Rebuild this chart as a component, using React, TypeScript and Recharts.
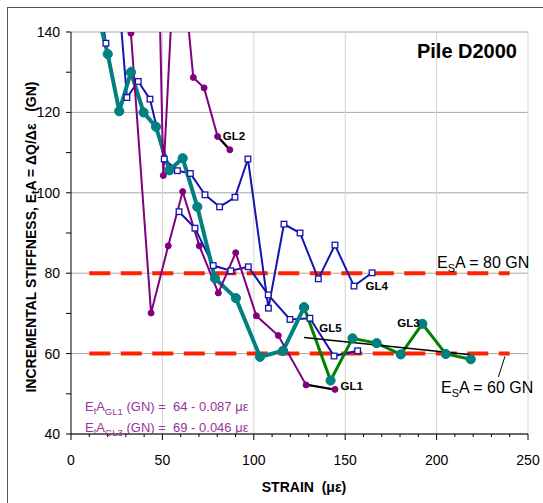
import React from "react";
import { LineChart, Line, XAxis, YAxis, CartesianGrid } from "recharts";

type Pt = [number, number | null];

// axis ticks
const xMajor = [0, 50, 100, 150, 200, 250];
const yMajor = [40, 60, 80, 100, 120, 140];
const xTicks = Array.from({ length: 26 }, (_, i) => i * 10);
const yTicks = Array.from({ length: 11 }, (_, i) => 40 + i * 10);

// main gauge (teal), the part after 127 µε is drawn green
const mainTeal: Pt[] = [
  [13, 147.5], [20.1, 134.5], [26.4, 120.3], [32.8, 130], [39.7, 120], [46.5, 116.4],
  [53.8, 105.6], [61.1, 108.6], [69.1, 96.5], [78.8, 78.7], [90.2, 73.8], [103.4, 59.2],
  [116, 60.7], [127.5, 71.5],
];
const mainGreen: Pt[] = [
  [127.5, 71.5], [142, 53.3], [154, 63.8], [167.2, 62.6], [180.4, 59.8], [192.2, 67.4],
  [205, 59.9], [218.7, 58.6],
];
// GL4 / GL5 (blue, open squares)
const gl4: Pt[] = [
  [25, 155], [30.6, 123.7], [36.8, 127.7], [43.2, 123.3], [51, 108.4], [58.2, 105.5],
  [65.3, 104.8], [73.3, 99.5], [81.3, 96.5], [89.7, 98.9], [96.8, 108.4], [108, 71.3],
  [116.5, 92.2], [125.3, 90], [135.3, 78.6], [144.4, 87], [154.8, 76.8], [164.7, 80.1],
];
const gl5: Pt[] = [
  [15, 150], [19.1, 137.2], [30, null], [59.1, 95.3], [67.8, 91.2], [77.8, 81.9],
  [87.4, 80.6], [97, 81.6], [107.9, 74.6], [119.8, 68.5], [130.7, 68.8], [143.9, 59.4],
  [156.8, 60.7],
];
// GL1 / GL2 (purple)
const gl1: Pt[] = [
  [32.8, 139.7], [43.8, 70.1], [53.2, 86.8], [61.1, 100.3], [70.2, 86.8], [80.6, 75.1],
  [90.1, 85.1], [101.4, 69.4], [113.4, 64.5], [128.6, 52.2], [144.4, 51.1],
];
const gl2: Pt[] = [
  [46, 198], [50.5, 104.3], [58, 171], [66.9, 128.7], [72.8, 126.1], [80.2, 114], [86.9, 110.7],
];
// trend lines
const gl1Fit: Pt[] = [[128.6, 52.3], [144.4, 51.0]];
const gl2Fit: Pt[] = [[80.2, 114], [86.9, 110.7]];
const gl3Fit: Pt[] = [[127.5, 64.0], [218.7, 59.7]];
// E_sA levels
const esa80: Pt[] = [[10, 80], [240, 80]];
const esa60: Pt[] = [[10, 60], [240, 60]];
const pointer60: Pt[] = [[237.4, 59.3], [233.8, 54.2]];

const toData = (pts: Pt[]) => pts.map(([x, y]) => ({ x, y }));

const FONT = "Arial, 'Liberation Sans', sans-serif";
const TEAL = "#008080";
const GREEN = "#008000";
const BLUE = "#1414b0";
const PURPLE = "#800080";
const RED = "#ff2200";
const TXT_PURPLE = "#993399";

const XTick = (props: any) => {
  const { x, y, payload } = props;
  const major = xMajor.includes(payload.value);
  return (
    <g>
      <line x1={x} x2={x} y1={y} y2={y + (major ? 6 : 3)} stroke="#000" />
      {major && (
        <text x={x} y={y + 31} textAnchor="middle" fontSize={14} fontFamily={FONT} fill="#000">
          {payload.value}
        </text>
      )}
    </g>
  );
};

const YTick = (props: any) => {
  const { x, y, payload } = props;
  const major = yMajor.includes(payload.value);
  return (
    <g>
      <line x1={x - 5} x2={x} y1={y} y2={y} stroke="#000" />
      {major && (
        <text x={x - 11} y={y + 5} textAnchor="end" fontSize={14} fontFamily={FONT} fill="#000">
          {payload.value}
        </text>
      )}
    </g>
  );
};

const circleDot = (r: number, fill: string) => (p: any) =>
  p.cx == null || p.cy == null ? (
    <g key={p.index} />
  ) : (
    <circle key={p.index} cx={p.cx} cy={p.cy} r={r} fill={fill} stroke={fill} />
  );

const squareDot = (p: any) =>
  p.cx == null || p.cy == null ? (
    <g key={p.index} />
  ) : (
    <rect
      key={p.index}
      x={p.cx - 2.8}
      y={p.cy - 2.8}
      width={5.6}
      height={5.6}
      fill="#fff"
      stroke={BLUE}
      strokeWidth={1.3}
    />
  );

const App: React.FC = () => {
  return (
    <div style={{ position: "absolute", left: 0, top: 0, width: 543, height: 503, overflow: "hidden", background: "#fff" }}>
      <div
        style={{
          position: "absolute",
          left: 7,
          top: 7,
          width: 535,
          height: 495,
          borderTop: "1px solid #555",
          borderLeft: "1px solid #555",
        }}
      />
      <div style={{ position: "absolute", left: 0, top: 0 }}>
        <LineChart width={543} height={503} margin={{ top: 32, right: 15, bottom: 39, left: 0 }}>
          <CartesianGrid
            vertical={false}
            stroke="#a8a8a8"
            horizontalCoordinatesGenerator={({ offset }: any) =>
              yMajor.map((v) => offset.top + ((140 - v) / 100) * offset.height)
            }
          />
          <CartesianGrid
            horizontal={false}
            stroke="#d4d4d4"
            verticalCoordinatesGenerator={({ offset }: any) =>
              xMajor.slice(1).map((v) => offset.left + (v / 250) * offset.width)
            }
          />
          <XAxis
            type="number"
            dataKey="x"
            domain={[0, 250]}
            ticks={xTicks}
            interval={0}
            allowDataOverflow
            tickSize={0}
            tickMargin={0}
            tickLine={false}
            tick={<XTick />}
            axisLine={{ stroke: "#000" }}
            height={30}
          />
          <YAxis
            type="number"
            dataKey="y"
            domain={[40, 140]}
            ticks={yTicks}
            interval={0}
            allowDataOverflow
            tickSize={0}
            tickMargin={0}
            tickLine={false}
            tick={<YTick />}
            axisLine={{ stroke: "#000" }}
            width={71}
          />

          <Line data={toData(esa80)} dataKey="y" stroke={RED} strokeWidth={4} strokeDasharray="21 10.5" dot={false} isAnimationActive={false} />
          <Line data={toData(esa60)} dataKey="y" stroke={RED} strokeWidth={4} strokeDasharray="21 10.5" dot={false} isAnimationActive={false} />

          <Line data={toData(gl4)} dataKey="y" stroke={BLUE} strokeWidth={2} dot={squareDot} isAnimationActive={false} />
          <Line data={toData(gl5)} dataKey="y" stroke={BLUE} strokeWidth={2} dot={squareDot} connectNulls={false} isAnimationActive={false} />

          <Line data={toData(mainTeal)} dataKey="y" stroke={TEAL} strokeWidth={4} dot={circleDot(4.6, TEAL)} isAnimationActive={false} />
          <Line data={toData(mainGreen)} dataKey="y" stroke={GREEN} strokeWidth={3} dot={circleDot(4.6, TEAL)} isAnimationActive={false} />

          <Line data={toData(gl1)} dataKey="y" stroke={PURPLE} strokeWidth={2} dot={circleDot(3, PURPLE)} isAnimationActive={false} />
          <Line data={toData(gl2)} dataKey="y" stroke={PURPLE} strokeWidth={2} dot={circleDot(3, PURPLE)} isAnimationActive={false} />

          <Line data={toData(gl1Fit)} dataKey="y" stroke="#000" strokeWidth={2} dot={false} isAnimationActive={false} />
          <Line data={toData(gl2Fit)} dataKey="y" stroke="#000" strokeWidth={2} dot={false} isAnimationActive={false} />
          <Line data={toData(gl3Fit)} dataKey="y" stroke="#000" strokeWidth={1.6} dot={false} isAnimationActive={false} />
          <Line data={toData(pointer60)} dataKey="y" stroke="#000" strokeWidth={1} dot={false} isAnimationActive={false} />
        </LineChart>
      </div>

      <svg
        width={543}
        height={503}
        style={{ position: "absolute", left: 0, top: 0, pointerEvents: "none" }}
        fontFamily={FONT}
      >
        <text x={517} y={58} textAnchor="end" fontWeight="bold" fontSize={20} fill="#000">
          Pile D2000
        </text>

        <text x={437} y={268} fontSize={16} fill="#000">
          E<tspan fontSize={11} dy={4}>S</tspan>
          <tspan dy={-4}>A = 80 GN</tspan>
        </text>
        <text x={441} y={393} fontSize={16} fill="#000">
          E<tspan fontSize={11} dy={4}>S</tspan>
          <tspan dy={-4}>A = 60 GN</tspan>
        </text>

        <g fontWeight="bold" fontSize={11.5} fill="#000">
          <text x={222.7} y={140}>GL2</text>
          <text x={340.5} y={389.5}>GL1</text>
          <text x={319.3} y={331.7}>GL5</text>
          <text x={397.3} y={327.3}>GL3</text>
          <text x={365.5} y={290}>GL4</text>
        </g>

        <g fontSize={13} fill={TXT_PURPLE}>
          <text x={85} y={410.5} xmlSpace="preserve">
            E<tspan fontSize={9} dy={3}>t</tspan>
            <tspan dy={-3}>A</tspan>
            <tspan fontSize={9.5} dy={4}>GL1</tspan>
            <tspan dy={-4}>{" (GN) =  64 - 0.087 με"}</tspan>
          </text>
          <text x={85} y={431.5} xmlSpace="preserve">
            E<tspan fontSize={9} dy={3}>t</tspan>
            <tspan dy={-3}>A</tspan>
            <tspan fontSize={9.5} dy={4}>GL3</tspan>
            <tspan dy={-4}>{" (GN) =  69 - 0.046 με"}</tspan>
          </text>
        </g>

        <text
          transform="rotate(-90)"
          x={-237}
          y={36}
          textAnchor="middle"
          fontWeight="bold"
          fontSize={14}
          fill="#000"
          xmlSpace="preserve"
        >
          INCREMENTAL STIFFNESS, E<tspan fontSize={10} dy={3}>t</tspan>
          <tspan dy={-3}>{"A = ΔQ/Δε   (GN)"}</tspan>
        </text>

        <text x={304} y={492} textAnchor="middle" fontWeight="bold" fontSize={14} fill="#000" xmlSpace="preserve">
          {"STRAIN  (με)"}
        </text>
      </svg>
    </div>
  );
};

export default App;
